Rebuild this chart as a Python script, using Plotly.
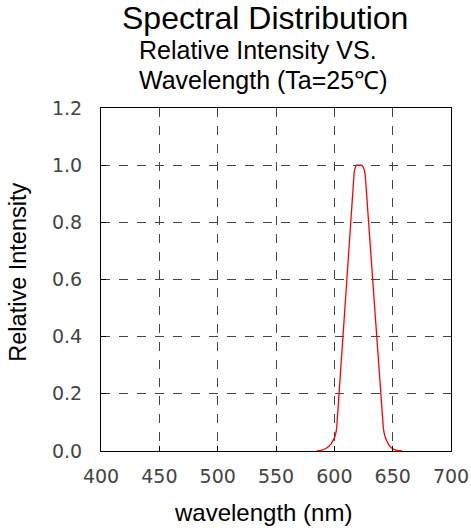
import plotly.graph_objects as go

wavelength = [585, 590, 594, 597, 599, 600.5, 602, 617, 618, 619, 620, 623, 624.5, 625.5, 626.5, 642, 643.5, 645, 647, 650, 654, 658]
intensity = [0.0, 0.004, 0.012, 0.024, 0.038, 0.05, 0.08, 0.975, 0.993, 1.0, 1.0, 1.0, 0.995, 0.985, 0.965, 0.08, 0.05, 0.035, 0.02, 0.008, 0.002, 0.0]

x_ticks = [400, 450, 500, 550, 600, 650, 700]
y_ticks = [0.0, 0.2, 0.4, 0.6, 0.8, 1.0, 1.2]
y_tick_labels = ["0.0", "0.2", "0.4", "0.6", "0.8", "1.0", "1.2"]

fig = go.Figure()
fig.add_trace(go.Scatter(x=wavelength, y=intensity, mode="lines",
                         line=dict(color="#ff0000", width=1.3, shape="spline", smoothing=0.4),
                         showlegend=False, hoverinfo="skip"))

axis_common = dict(showline=True, linecolor="black", linewidth=1, mirror=True,
                   ticks="inside", ticklen=5, tickcolor="black",
                   showgrid=True, gridcolor="#444444", gridwidth=1, griddash="dash",
                   zeroline=False, automargin=False,
                   tickfont=dict(family="DejaVu Sans", size=19, color="#444444"))

fig.update_xaxes(range=[400, 700], tickvals=x_ticks, ticklabelstandoff=8, **axis_common)
fig.update_yaxes(range=[0, 1.2], tickvals=y_ticks, ticktext=y_tick_labels,
                 ticklabelstandoff=14, **axis_common)

fig.update_layout(
    width=471, height=531,
    margin=dict(l=101, r=20, t=108, b=80),
    paper_bgcolor="white", plot_bgcolor="white",
    hovermode=False,
    annotations=[
        dict(text="Spectral Distribution", xref="paper", yref="paper", x=0.469, y=1.0, yshift=90,
             xanchor="center", yanchor="middle", showarrow=False,
             font=dict(family="Liberation Sans", size=32, color="black")),
        dict(text="Relative Intensity VS.", xref="paper", yref="paper", x=0.103, y=1.0, yshift=58,
             xanchor="left", yanchor="middle", showarrow=False,
             font=dict(family="Liberation Sans", size=25, color="black")),
        dict(text="Wavelength (Ta=25℃)", xref="paper", yref="paper", x=0.103, y=1.0, yshift=28,
             xanchor="left", yanchor="middle", showarrow=False,
             font=dict(family="Liberation Sans", size=25, color="black")),
        dict(text="Relative Intensity", xref="paper", yref="paper", x=-0.237, y=0.52,
             xanchor="center", yanchor="middle", textangle=-90, showarrow=False,
             font=dict(family="Liberation Sans", size=23.5, color="black")),
        dict(text="wavelength (nm)", xref="paper", yref="paper", x=0.463, y=-0.178,
             xanchor="center", yanchor="middle", showarrow=False,
             font=dict(family="Liberation Sans", size=24, color="black")),
    ],
)

fig.write_html("out.html", config={"displayModeBar": False, "staticPlot": True},
               post_script="document.body.style.margin='0px';")
